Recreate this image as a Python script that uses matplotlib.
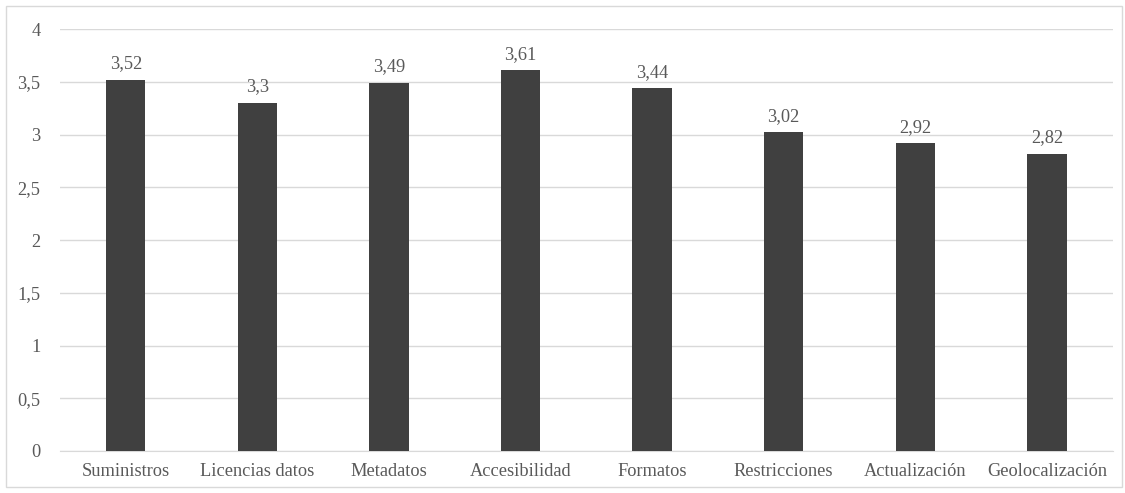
import matplotlib.pyplot as plt
from matplotlib.patches import Rectangle
from matplotlib.ticker import FuncFormatter

categories = ['Suministros', 'Licencias datos', 'Metadatos', 'Accesibilidad',
              'Formatos', 'Restricciones', 'Actualización', 'Geolocalización']
values = [3.52, 3.3, 3.49, 3.61, 3.44, 3.02, 2.92, 2.82]
yticks = [0, 0.5, 1, 1.5, 2, 2.5, 3, 3.5, 4]

TEXT = '#595959'


def comma(v, pos=None):
    s = ('%g' % v)
    return s.replace('.', ',')


plt.rcParams['font.family'] = ['Liberation Serif', 'DejaVu Serif']

fig = plt.figure(figsize=(11.25, 4.93), dpi=100)
ax = fig.add_axes([0.0533, 0.0852, 0.9357, 0.8558])

x = range(len(categories))
ax.bar(x, values, width=0.30, color='#404040', zorder=3)
for xi, v in zip(x, values):
    ax.text(xi, v + 0.07, comma(v), ha='center', va='bottom',
            fontsize=13.2, color=TEXT)

ax.set_xlim(-0.5, len(categories) - 0.5)
ax.set_ylim(0, 4)
ax.set_yticks(yticks)
ax.yaxis.set_major_formatter(FuncFormatter(comma))
ax.set_xticks(list(x))
ax.set_xticklabels(categories)
ax.tick_params(length=0, labelsize=13.2, colors=TEXT)
ax.tick_params(axis='y', pad=14)
ax.tick_params(axis='x', pad=9)
ax.grid(axis='y', color='#d9d9d9', linewidth=1, zorder=0)
for s in ['top', 'right', 'left']:
    ax.spines[s].set_visible(False)
ax.spines['bottom'].set_color('#d9d9d9')

# light frame around the whole chart
fig.patches.append(Rectangle((6 / 1125, 6 / 493), 1116 / 1125, 481 / 493,
                             transform=fig.transFigure, fill=False,
                             edgecolor='#d9d9d9', linewidth=1))

fig.savefig('out.png', dpi=100)
